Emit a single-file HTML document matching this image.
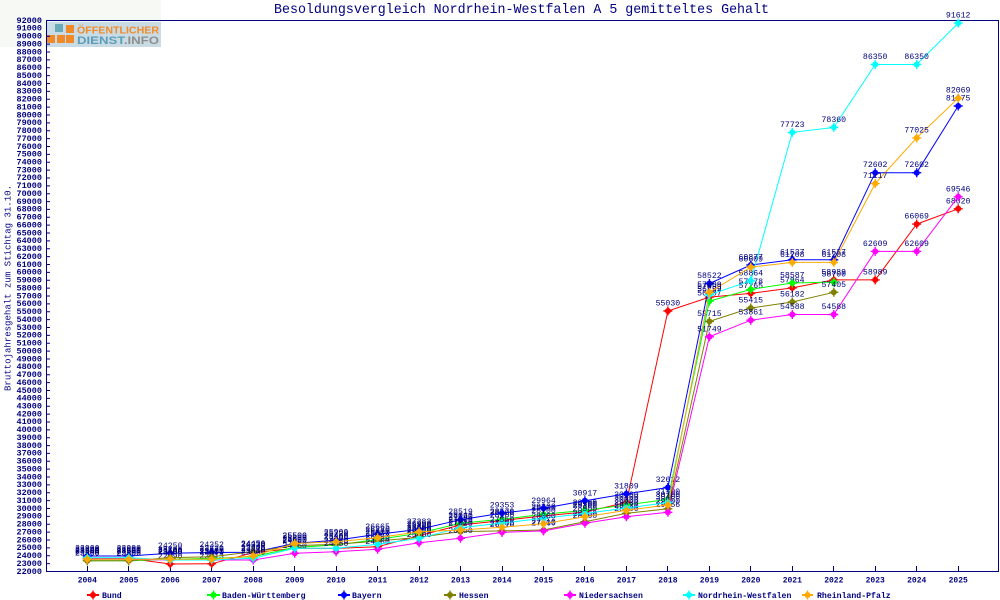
<!DOCTYPE html>
<html><head><meta charset="utf-8"><style>
html,body{margin:0;padding:0;background:#fff;}
svg{display:block;font-family:"Liberation Mono","DejaVu Sans Mono",monospace;}
</style></head><body>
<svg width="1000" height="600" viewBox="0 0 1000 600" xmlns="http://www.w3.org/2000/svg">
<defs>
<g id="mk"><circle r="3" stroke="none"/><path d="M-4.5 0H4.5M0-4.5V4.5" fill="none" stroke-width="1.4"/></g>
</defs>
<rect width="1000" height="600" fill="#fff"/>
<rect x="0" y="0" width="161" height="47" fill="#f7f9f4"/>
<!-- logo -->
<rect x="47" y="22" width="114" height="25" fill="#c9dce6"/>
<rect x="55" y="24" width="8" height="8" fill="#6aa9b7"/>
<rect x="66" y="25" width="8" height="8" fill="#f08a28"/>
<rect x="47" y="35" width="8" height="8" fill="#f08a28"/>
<rect x="57" y="35" width="8" height="8" fill="#f08a28"/>
<rect x="66" y="35" width="8" height="8" fill="#f08a28"/>
<text x="77" y="33.5" font-family="Liberation Sans,sans-serif" font-weight="bold" font-size="10.5" fill="#f08a28" textLength="82" lengthAdjust="spacingAndGlyphs">ÖFFENTLICHER</text>
<text x="77" y="44" font-family="Liberation Sans,sans-serif" font-weight="bold" font-size="11" textLength="82" lengthAdjust="spacingAndGlyphs"><tspan fill="#5c9db5">DIENST</tspan><tspan fill="#8e8e8e">.INFO</tspan></text>

<!-- title -->
<text x="274" y="13" font-size="14" fill="#000080" textLength="495" lengthAdjust="spacingAndGlyphs">Besoldungsvergleich Nordrhein-Westfalen A 5 gemitteltes Gehalt</text>
<!-- y axis title -->
<text transform="translate(10.5,288) rotate(-90)" text-anchor="middle" font-size="9.5" fill="#000080" textLength="206" lengthAdjust="spacingAndGlyphs">Bruttojahresgehalt zum Stichtag 31.10.</text>

<!-- frame -->
<path d="M46.5 20.5H998.5V571.5H46.5Z" fill="none" stroke="#000080" stroke-width="1"/>
<!-- y ticks -->
<path d="M46 571h4m-4-7.871h4m-4-7.871h4m-4-7.871h4m-4-7.871h4m-4-7.871h4m-4-7.871h4m-4-7.871h4m-4-7.871h4m-4-7.871h4m-4-7.871h4m-4-7.871h4m-4-7.871h4m-4-7.871h4m-4-7.871h4m-4-7.871h4m-4-7.871h4m-4-7.871h4m-4-7.871h4m-4-7.871h4m-4-7.871h4m-4-7.871h4m-4-7.871h4m-4-7.871h4m-4-7.871h4m-4-7.871h4m-4-7.871h4m-4-7.871h4m-4-7.871h4m-4-7.871h4m-4-7.871h4m-4-7.871h4m-4-7.871h4m-4-7.871h4m-4-7.871h4m-4-7.871h4m-4-7.871h4m-4-7.871h4m-4-7.871h4m-4-7.871h4m-4-7.871h4m-4-7.871h4m-4-7.871h4m-4-7.871h4m-4-7.871h4m-4-7.871h4m-4-7.871h4m-4-7.871h4m-4-7.871h4m-4-7.871h4m-4-7.871h4m-4-7.871h4m-4-7.871h4m-4-7.871h4m-4-7.871h4m-4-7.871h4m-4-7.871h4m-4-7.871h4m-4-7.871h4m-4-7.871h4m-4-7.871h4m-4-7.871h4m-4-7.871h4m-4-7.871h4m-4-7.871h4m-4-7.871h4m-4-7.871h4m-4-7.871h4m-4-7.871h4" stroke="#000080" stroke-width="1" fill="none" transform="translate(0,0.5)"/>
<!-- x ticks -->
<path d="M87.5 571V566M128.5 571V566M170.5 571V566M211.5 571V566M253.5 571V566M294.5 571V566M336.5 571V566M377.5 571V566M419.5 571V566M460.5 571V566M502.5 571V566M543.5 571V566M584.5 571V566M626.5 571V566M667.5 571V566M709.5 571V566M750.5 571V566M792.5 571V566M833.5 571V566M875.5 571V566M916.5 571V566M958.5 571V566" stroke="#000080" stroke-width="1"/>

<!-- y tick labels -->
<g font-size="8.5" font-weight="bold" fill="#000080" text-anchor="end">
<text x="42" y="573.8">22000</text><text x="42" y="565.9">23000</text><text x="42" y="558.1">24000</text><text x="42" y="550.2">25000</text><text x="42" y="542.3">26000</text><text x="42" y="534.4">27000</text><text x="42" y="526.6">28000</text><text x="42" y="518.7">29000</text><text x="42" y="510.8">30000</text><text x="42" y="503.0">31000</text><text x="42" y="495.1">32000</text><text x="42" y="487.2">33000</text><text x="42" y="479.3">34000</text><text x="42" y="471.5">35000</text><text x="42" y="463.6">36000</text><text x="42" y="455.7">37000</text><text x="42" y="447.9">38000</text><text x="42" y="440.0">39000</text><text x="42" y="432.1">40000</text><text x="42" y="424.2">41000</text><text x="42" y="416.4">42000</text><text x="42" y="408.5">43000</text><text x="42" y="400.6">44000</text><text x="42" y="392.8">45000</text><text x="42" y="384.9">46000</text><text x="42" y="377.0">47000</text><text x="42" y="369.1">48000</text><text x="42" y="361.3">49000</text><text x="42" y="353.4">50000</text><text x="42" y="345.5">51000</text><text x="42" y="337.7">52000</text><text x="42" y="329.8">53000</text><text x="42" y="321.9">54000</text><text x="42" y="314.1">55000</text><text x="42" y="306.2">56000</text><text x="42" y="298.3">57000</text><text x="42" y="290.4">58000</text><text x="42" y="282.6">59000</text><text x="42" y="274.7">60000</text><text x="42" y="266.8">61000</text><text x="42" y="259.0">62000</text><text x="42" y="251.1">63000</text><text x="42" y="243.2">64000</text><text x="42" y="235.3">65000</text><text x="42" y="227.5">66000</text><text x="42" y="219.6">67000</text><text x="42" y="211.7">68000</text><text x="42" y="203.9">69000</text><text x="42" y="196.0">70000</text><text x="42" y="188.1">71000</text><text x="42" y="180.2">72000</text><text x="42" y="172.4">73000</text><text x="42" y="164.5">74000</text><text x="42" y="156.6">75000</text><text x="42" y="148.8">76000</text><text x="42" y="140.9">77000</text><text x="42" y="133.0">78000</text><text x="42" y="125.1">79000</text><text x="42" y="117.3">80000</text><text x="42" y="109.4">81000</text><text x="42" y="101.5">82000</text><text x="42" y="93.7">83000</text><text x="42" y="85.8">84000</text><text x="42" y="77.9">85000</text><text x="42" y="70.1">86000</text><text x="42" y="62.2">87000</text><text x="42" y="54.3">88000</text><text x="42" y="46.4">89000</text><text x="42" y="38.6">90000</text><text x="42" y="30.7">91000</text><text x="42" y="22.8">92000</text>
</g>

<!-- x labels -->
<g font-size="8" font-weight="bold" fill="#000080" text-anchor="middle">
<text x="87.3" y="582.5">2004</text><text x="128.8" y="582.5">2005</text><text x="170.2" y="582.5">2006</text><text x="211.7" y="582.5">2007</text><text x="253.2" y="582.5">2008</text><text x="294.7" y="582.5">2009</text><text x="336.1" y="582.5">2010</text><text x="377.6" y="582.5">2011</text><text x="419.1" y="582.5">2012</text><text x="460.5" y="582.5">2013</text><text x="502.0" y="582.5">2014</text><text x="543.5" y="582.5">2015</text><text x="584.9" y="582.5">2016</text><text x="626.4" y="582.5">2017</text><text x="667.9" y="582.5">2018</text><text x="709.4" y="582.5">2019</text><text x="750.8" y="582.5">2020</text><text x="792.3" y="582.5">2021</text><text x="833.8" y="582.5">2022</text><text x="875.2" y="582.5">2023</text><text x="916.7" y="582.5">2024</text><text x="958.2" y="582.5">2025</text>
</g>

<!-- SERIES: Bund (red) -->
<g fill="#ff0000" stroke="#ff0000">
<polyline fill="none" stroke-width="1" points="87.3,558.4 128.8,558.4 170.2,564.0 211.7,563.8 253.2,552.7 294.7,548.2 336.1,548.4 377.6,546.8 419.1,535.6 460.5,525.0 502.0,520.6 543.5,515.9 584.9,512.0 626.4,502.5 667.9,311.0 709.4,297.1 750.8,293.4 792.3,287.9 833.8,279.9 875.2,279.9 916.7,224.1 958.2,208.8"/>
<use href="#mk" x="87.3" y="558.4"/><use href="#mk" x="128.8" y="558.4"/><use href="#mk" x="170.2" y="564.0"/><use href="#mk" x="211.7" y="563.8"/><use href="#mk" x="253.2" y="552.7"/><use href="#mk" x="294.7" y="548.2"/><use href="#mk" x="336.1" y="548.4"/><use href="#mk" x="377.6" y="546.8"/><use href="#mk" x="419.1" y="535.6"/><use href="#mk" x="460.5" y="525.0"/><use href="#mk" x="502.0" y="520.6"/><use href="#mk" x="543.5" y="515.9"/><use href="#mk" x="584.9" y="512.0"/><use href="#mk" x="626.4" y="502.5"/><use href="#mk" x="667.9" y="311.0"/><use href="#mk" x="709.4" y="297.1"/><use href="#mk" x="750.8" y="293.4"/><use href="#mk" x="792.3" y="287.9"/><use href="#mk" x="833.8" y="279.9"/><use href="#mk" x="875.2" y="279.9"/><use href="#mk" x="916.7" y="224.1"/><use href="#mk" x="958.2" y="208.8"/>
</g>
<g font-size="8.2" fill="#000080" text-anchor="middle">
<text x="87.3" y="552.9">23600</text><text x="128.8" y="552.9">23600</text><text x="170.2" y="558.5">22890</text><text x="211.7" y="558.3">22913</text><text x="253.2" y="547.2">24330</text><text x="294.7" y="542.7">24900</text><text x="336.1" y="542.9">24870</text><text x="377.6" y="541.3">25080</text><text x="419.1" y="530.1">26500</text><text x="460.5" y="519.5">27840</text><text x="502.0" y="515.1">28400</text><text x="543.5" y="510.4">29000</text><text x="584.9" y="506.5">29500</text><text x="626.4" y="497.0">30700</text><text x="667.9" y="305.5">55030</text><text x="709.4" y="291.6">56799</text><text x="750.8" y="287.9">57265</text><text x="792.3" y="282.4">57964</text><text x="833.8" y="274.4">58989</text><text x="875.2" y="274.4">58989</text><text x="916.7" y="218.6">66069</text><text x="958.2" y="203.3">68020</text>
</g>

<!-- SERIES: Baden-Württemberg (green) -->
<g fill="#00ff00" stroke="#00ff00">
<polyline fill="none" stroke-width="1" points="87.3,560.8 128.8,560.8 170.2,559.2 211.7,558.4 253.2,556.7 294.7,547.4 336.1,545.0 377.6,539.5 419.1,533.2 460.5,523.3 502.0,519.3 543.5,514.3 584.9,510.4 626.4,504.9 667.9,499.4 709.4,301.1 750.8,289.4 792.3,283.0 833.8,282.1"/>
<use href="#mk" x="87.3" y="560.8"/><use href="#mk" x="128.8" y="560.8"/><use href="#mk" x="170.2" y="559.2"/><use href="#mk" x="211.7" y="558.4"/><use href="#mk" x="253.2" y="556.7"/><use href="#mk" x="294.7" y="547.4"/><use href="#mk" x="336.1" y="545.0"/><use href="#mk" x="377.6" y="539.5"/><use href="#mk" x="419.1" y="533.2"/><use href="#mk" x="460.5" y="523.3"/><use href="#mk" x="502.0" y="519.3"/><use href="#mk" x="543.5" y="514.3"/><use href="#mk" x="584.9" y="510.4"/><use href="#mk" x="626.4" y="504.9"/><use href="#mk" x="667.9" y="499.4"/><use href="#mk" x="709.4" y="301.1"/><use href="#mk" x="750.8" y="289.4"/><use href="#mk" x="792.3" y="283.0"/><use href="#mk" x="833.8" y="282.1"/>
</g>
<g font-size="8.2" fill="#000080" text-anchor="middle">
<text x="87.3" y="555.3">23300</text><text x="128.8" y="555.3">23300</text><text x="170.2" y="553.7">23500</text><text x="211.7" y="552.9">23600</text><text x="253.2" y="551.2">23820</text><text x="294.7" y="541.9">25000</text><text x="336.1" y="539.5">25300</text><text x="377.6" y="534.0">26000</text><text x="419.1" y="527.7">26800</text><text x="460.5" y="517.8">28060</text><text x="502.0" y="513.8">28570</text><text x="543.5" y="508.8">29200</text><text x="584.9" y="504.9">29700</text><text x="626.4" y="499.4">30400</text><text x="667.9" y="493.9">31100</text><text x="709.4" y="295.6">56287</text><text x="750.8" y="283.9">57778</text><text x="792.3" y="277.5">58587</text><text x="833.8" y="276.6">58700</text>
</g>

<!-- SERIES: Bayern (blue) -->
<g fill="#0000ff" stroke="#0000ff">
<polyline fill="none" stroke-width="1" points="87.3,556.0 128.8,556.0 170.2,553.3 211.7,552.5 253.2,552.3 294.7,543.4 336.1,540.2 377.6,534.3 419.1,529.4 460.5,519.7 502.0,513.1 543.5,508.3 584.9,500.8 626.4,493.8 667.9,487.5 709.4,283.5 750.8,265.0 792.3,259.8 833.8,259.8 875.2,172.7 916.7,172.7 958.2,106.0"/>
<use href="#mk" x="87.3" y="556.0"/><use href="#mk" x="128.8" y="556.0"/><use href="#mk" x="170.2" y="553.3"/><use href="#mk" x="211.7" y="552.5"/><use href="#mk" x="253.2" y="552.3"/><use href="#mk" x="294.7" y="543.4"/><use href="#mk" x="336.1" y="540.2"/><use href="#mk" x="377.6" y="534.3"/><use href="#mk" x="419.1" y="529.4"/><use href="#mk" x="460.5" y="519.7"/><use href="#mk" x="502.0" y="513.1"/><use href="#mk" x="543.5" y="508.3"/><use href="#mk" x="584.9" y="500.8"/><use href="#mk" x="626.4" y="493.8"/><use href="#mk" x="667.9" y="487.5"/><use href="#mk" x="709.4" y="283.5"/><use href="#mk" x="750.8" y="265.0"/><use href="#mk" x="792.3" y="259.8"/><use href="#mk" x="833.8" y="259.8"/><use href="#mk" x="875.2" y="172.7"/><use href="#mk" x="916.7" y="172.7"/><use href="#mk" x="958.2" y="106.0"/>
</g>
<g font-size="8.2" fill="#000080" text-anchor="middle">
<text x="87.3" y="550.5">23900</text><text x="128.8" y="550.5">23900</text><text x="170.2" y="547.8">24250</text><text x="211.7" y="547.0">24352</text><text x="253.2" y="546.8">24378</text><text x="294.7" y="537.9">25506</text><text x="336.1" y="534.7">25909</text><text x="377.6" y="528.8">26665</text><text x="419.1" y="523.9">27283</text><text x="460.5" y="514.2">28519</text><text x="502.0" y="507.6">29353</text><text x="543.5" y="502.8">29964</text><text x="584.9" y="495.3">30917</text><text x="626.4" y="488.3">31809</text><text x="667.9" y="482.0">32612</text><text x="709.4" y="278.0">58522</text><text x="750.8" y="259.5">60877</text><text x="792.3" y="254.3">61537</text><text x="833.8" y="254.3">61537</text><text x="875.2" y="167.2">72602</text><text x="916.7" y="167.2">72602</text><text x="958.2" y="100.5">81075</text>
</g>

<!-- SERIES: Hessen (olive) -->
<g fill="#808000" stroke="#808000">
<polyline fill="none" stroke-width="1" points="87.3,560.8 128.8,560.8 170.2,557.6 211.7,556.7 253.2,551.7 294.7,545.8 336.1,544.2 377.6,541.1 419.1,537.2 460.5,531.6 502.0,530.9 543.5,530.0 584.9,521.7 626.4,513.3 667.9,508.8 709.4,321.4 750.8,308.0 792.3,302.0 833.8,292.3"/>
<use href="#mk" x="87.3" y="560.8"/><use href="#mk" x="128.8" y="560.8"/><use href="#mk" x="170.2" y="557.6"/><use href="#mk" x="211.7" y="556.7"/><use href="#mk" x="253.2" y="551.7"/><use href="#mk" x="294.7" y="545.8"/><use href="#mk" x="336.1" y="544.2"/><use href="#mk" x="377.6" y="541.1"/><use href="#mk" x="419.1" y="537.2"/><use href="#mk" x="460.5" y="531.6"/><use href="#mk" x="502.0" y="530.9"/><use href="#mk" x="543.5" y="530.0"/><use href="#mk" x="584.9" y="521.7"/><use href="#mk" x="626.4" y="513.3"/><use href="#mk" x="667.9" y="508.8"/><use href="#mk" x="709.4" y="321.4"/><use href="#mk" x="750.8" y="308.0"/><use href="#mk" x="792.3" y="302.0"/><use href="#mk" x="833.8" y="292.3"/>
</g>
<g font-size="8.2" fill="#000080" text-anchor="middle">
<text x="87.3" y="555.3">23300</text><text x="128.8" y="555.3">23300</text><text x="170.2" y="552.1">23700</text><text x="211.7" y="551.2">23820</text><text x="253.2" y="546.2">24450</text><text x="294.7" y="540.3">25200</text><text x="336.1" y="538.7">25400</text><text x="377.6" y="535.6">25800</text><text x="419.1" y="531.7">26300</text><text x="460.5" y="526.1">27000</text><text x="502.0" y="525.4">27100</text><text x="543.5" y="524.5">27210</text><text x="584.9" y="516.2">28260</text><text x="626.4" y="507.8">29330</text><text x="667.9" y="503.3">29900</text><text x="709.4" y="315.9">53715</text><text x="750.8" y="302.5">55415</text><text x="792.3" y="296.5">56182</text><text x="833.8" y="286.8">57405</text>
</g>

<!-- SERIES: Niedersachsen (magenta) -->
<g fill="#ff00ff" stroke="#ff00ff">
<polyline fill="none" stroke-width="1" points="87.3,559.2 128.8,559.2 170.2,560.0 211.7,560.0 253.2,560.0 294.7,553.3 336.1,551.7 377.6,549.3 419.1,542.7 460.5,538.3 502.0,532.4 543.5,530.9 584.9,523.3 626.4,516.7 667.9,512.3 709.4,336.8 750.8,320.2 792.3,314.5 833.8,314.5 875.2,251.4 916.7,251.4 958.2,196.8"/>
<use href="#mk" x="87.3" y="559.2"/><use href="#mk" x="128.8" y="559.2"/><use href="#mk" x="170.2" y="560.0"/><use href="#mk" x="211.7" y="560.0"/><use href="#mk" x="253.2" y="560.0"/><use href="#mk" x="294.7" y="553.3"/><use href="#mk" x="336.1" y="551.7"/><use href="#mk" x="377.6" y="549.3"/><use href="#mk" x="419.1" y="542.7"/><use href="#mk" x="460.5" y="538.3"/><use href="#mk" x="502.0" y="532.4"/><use href="#mk" x="543.5" y="530.9"/><use href="#mk" x="584.9" y="523.3"/><use href="#mk" x="626.4" y="516.7"/><use href="#mk" x="667.9" y="512.3"/><use href="#mk" x="709.4" y="336.8"/><use href="#mk" x="750.8" y="320.2"/><use href="#mk" x="792.3" y="314.5"/><use href="#mk" x="833.8" y="314.5"/><use href="#mk" x="875.2" y="251.4"/><use href="#mk" x="916.7" y="251.4"/><use href="#mk" x="958.2" y="196.8"/>
</g>
<g font-size="8.2" fill="#000080" text-anchor="middle">
<text x="87.3" y="553.7">23500</text><text x="128.8" y="553.7">23500</text><text x="170.2" y="554.5">23400</text><text x="211.7" y="554.5">23400</text><text x="253.2" y="554.5">23400</text><text x="294.7" y="547.8">24250</text><text x="336.1" y="546.2">24450</text><text x="377.6" y="543.8">24760</text><text x="419.1" y="537.2">25600</text><text x="460.5" y="532.8">26150</text><text x="502.0" y="526.9">26910</text><text x="543.5" y="525.4">27100</text><text x="584.9" y="517.8">28060</text><text x="626.4" y="511.2">28900</text><text x="667.9" y="506.8">29456</text><text x="709.4" y="331.3">51749</text><text x="750.8" y="314.7">53861</text><text x="792.3" y="309.0">54588</text><text x="833.8" y="309.0">54588</text><text x="875.2" y="245.9">62609</text><text x="916.7" y="245.9">62609</text><text x="958.2" y="191.3">69546</text>
</g>

<!-- SERIES: Nordrhein-Westfalen (cyan) -->
<g fill="#00ffff" stroke="#00ffff">
<polyline fill="none" stroke-width="1" points="87.3,557.7 128.8,557.7 170.2,560.0 211.7,560.0 253.2,558.3 294.7,548.3 336.1,548.3 377.6,544.3 419.1,538.3 460.5,527.7 502.0,523.0 543.5,518.3 584.9,513.5 626.4,508.0 667.9,502.5 709.4,294.7 750.8,280.8 792.3,132.4 833.8,127.4 875.2,64.5 916.7,64.5 958.2,23.1"/>
<use href="#mk" x="87.3" y="557.7"/><use href="#mk" x="128.8" y="557.7"/><use href="#mk" x="170.2" y="560.0"/><use href="#mk" x="211.7" y="560.0"/><use href="#mk" x="253.2" y="558.3"/><use href="#mk" x="294.7" y="548.3"/><use href="#mk" x="336.1" y="548.3"/><use href="#mk" x="377.6" y="544.3"/><use href="#mk" x="419.1" y="538.3"/><use href="#mk" x="460.5" y="527.7"/><use href="#mk" x="502.0" y="523.0"/><use href="#mk" x="543.5" y="518.3"/><use href="#mk" x="584.9" y="513.5"/><use href="#mk" x="626.4" y="508.0"/><use href="#mk" x="667.9" y="502.5"/><use href="#mk" x="709.4" y="294.7"/><use href="#mk" x="750.8" y="280.8"/><use href="#mk" x="792.3" y="132.4"/><use href="#mk" x="833.8" y="127.4"/><use href="#mk" x="875.2" y="64.5"/><use href="#mk" x="916.7" y="64.5"/><use href="#mk" x="958.2" y="23.1"/>
</g>
<g font-size="8.2" fill="#000080" text-anchor="middle">
<text x="87.3" y="552.2">23690</text><text x="128.8" y="552.2">23690</text><text x="170.2" y="554.5">23400</text><text x="211.7" y="554.5">23400</text><text x="253.2" y="552.8">23610</text><text x="294.7" y="542.8">24880</text><text x="336.1" y="542.8">24880</text><text x="377.6" y="538.8">25390</text><text x="419.1" y="532.8">26150</text><text x="460.5" y="522.2">27500</text><text x="502.0" y="517.5">28100</text><text x="543.5" y="512.8">28700</text><text x="584.9" y="508.0">29300</text><text x="626.4" y="502.5">30000</text><text x="667.9" y="497.0">30700</text><text x="709.4" y="289.2">57099</text><text x="750.8" y="275.3">58864</text><text x="792.3" y="126.9">77723</text><text x="833.8" y="121.9">78360</text><text x="875.2" y="59.0">86350</text><text x="916.7" y="59.0">86350</text><text x="958.2" y="17.6">91612</text>
</g>

<!-- SERIES: Rheinland-Pfalz (orange) -->
<g fill="#ffaa00" stroke="#ffaa00">
<polyline fill="none" stroke-width="1" points="87.3,559.2 128.8,559.2 170.2,559.2 211.7,559.2 253.2,556.0 294.7,543.5 336.1,541.7 377.6,537.7 419.1,531.7 460.5,530.0 502.0,527.3 543.5,523.8 584.9,516.7 626.4,510.4 667.9,504.9 709.4,292.3 750.8,267.1 792.3,262.4 833.8,262.4 875.2,183.6 916.7,137.9 958.2,98.2"/>
<use href="#mk" x="87.3" y="559.2"/><use href="#mk" x="128.8" y="559.2"/><use href="#mk" x="170.2" y="559.2"/><use href="#mk" x="211.7" y="559.2"/><use href="#mk" x="253.2" y="556.0"/><use href="#mk" x="294.7" y="543.5"/><use href="#mk" x="336.1" y="541.7"/><use href="#mk" x="377.6" y="537.7"/><use href="#mk" x="419.1" y="531.7"/><use href="#mk" x="460.5" y="530.0"/><use href="#mk" x="502.0" y="527.3"/><use href="#mk" x="543.5" y="523.8"/><use href="#mk" x="584.9" y="516.7"/><use href="#mk" x="626.4" y="510.4"/><use href="#mk" x="667.9" y="504.9"/><use href="#mk" x="709.4" y="292.3"/><use href="#mk" x="750.8" y="267.1"/><use href="#mk" x="792.3" y="262.4"/><use href="#mk" x="833.8" y="262.4"/><use href="#mk" x="875.2" y="183.6"/><use href="#mk" x="916.7" y="137.9"/><use href="#mk" x="958.2" y="98.2"/>
</g>
<g font-size="8.2" fill="#000080" text-anchor="middle">
<text x="87.3" y="553.7">23500</text><text x="128.8" y="553.7">23500</text><text x="170.2" y="553.7">23500</text><text x="211.7" y="553.7">23500</text><text x="253.2" y="550.5">23900</text><text x="294.7" y="538.0">25500</text><text x="336.1" y="536.2">25720</text><text x="377.6" y="532.2">26230</text><text x="419.1" y="526.2">26990</text><text x="460.5" y="524.5">27210</text><text x="502.0" y="521.8">27550</text><text x="543.5" y="518.3">28000</text><text x="584.9" y="511.2">28900</text><text x="626.4" y="504.9">29700</text><text x="667.9" y="499.4">30400</text><text x="709.4" y="286.8">57409</text><text x="750.8" y="261.6">60609</text><text x="792.3" y="256.9">61208</text><text x="833.8" y="256.9">61208</text><text x="875.2" y="178.1">71217</text><text x="916.7" y="132.4">77025</text><text x="958.2" y="92.7">82069</text>
</g>

<!-- legend -->
<g stroke-width="2">
<g fill="#ff0000" stroke="#ff0000"><path d="M87 595H99" fill="none"/><use href="#mk" x="93" y="595"/></g>
<g fill="#00ff00" stroke="#00ff00"><path d="M207 595H220" fill="none"/><use href="#mk" x="213.5" y="595"/></g>
<g fill="#0000ff" stroke="#0000ff"><path d="M338 595H350" fill="none"/><use href="#mk" x="344" y="595"/></g>
<g fill="#808000" stroke="#808000"><path d="M444 595H456" fill="none"/><use href="#mk" x="450" y="595"/></g>
<g fill="#ff00ff" stroke="#ff00ff"><path d="M564 595H576" fill="none"/><use href="#mk" x="570" y="595"/></g>
<g fill="#00ffff" stroke="#00ffff"><path d="M683 595H695" fill="none"/><use href="#mk" x="689" y="595"/></g>
<g fill="#ffaa00" stroke="#ffaa00"><path d="M802 595H813" fill="none"/><use href="#mk" x="807.5" y="595"/></g>
</g>
<g font-size="8.2" font-weight="bold" fill="#000080">
<text x="102" y="598">Bund</text>
<text x="222" y="598">Baden-Württemberg</text>
<text x="352" y="598">Bayern</text>
<text x="459" y="598">Hessen</text>
<text x="579" y="598">Niedersachsen</text>
<text x="698" y="598">Nordrhein-Westfalen</text>
<text x="817" y="598">Rheinland-Pfalz</text>
</g>
</svg>
</body></html>
